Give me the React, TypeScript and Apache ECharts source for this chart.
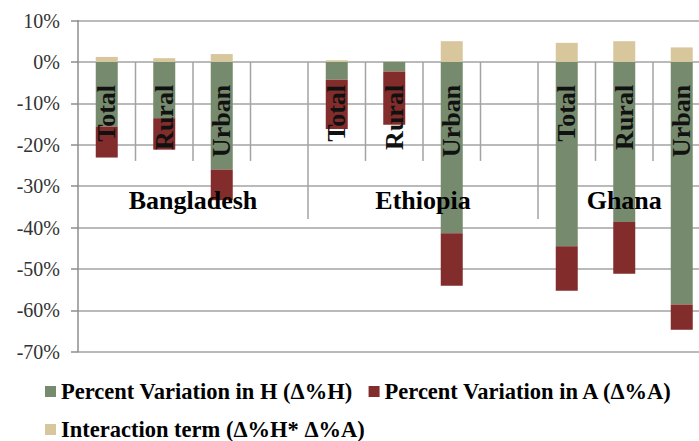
import React, { useEffect, useRef } from "react";
import * as echarts from "echarts";

const CATEGORIES = ["Total", "Rural", "Urban", "", "Total", "Rural", "Urban", "", "Total", "Rural", "Urban"];
const H_VALUES = [-15.6, -13.6, -26.0, null, -4.3, -2.3, -41.4, null, -44.5, -38.7, -58.6];
const A_VALUES = [-7.5, -7.6, -7.4, null, -11.9, -12.9, -12.7, null, -10.8, -12.5, -6.1];
const I_VALUES = [1.2, 0.9, 1.9, null, 0.4, 0.1, 5.0, null, 4.6, 5.0, 3.5];
const GROUPS = ["Bangladesh", "Ethiopia", "Ghana"];
const GROUP_SPANS = [[0, 4], [4, 8], [8, 11]];
const SERIES_NAMES = [
  "Percent Variation in H (Δ%H)",
  "Percent Variation in A (Δ%A)",
  "Interaction term (Δ%H* Δ%A)",
];
const Y_MIN = -70;
const Y_MAX = 10;
const Y_STEP = 10;
const GROUP_LABEL_Y = -33.4;

const FONT = "'Liberation Serif', 'DejaVu Serif', serif";
const GRID_COLOR = "#a3a3a3";
const AXIS_COLOR = "#8e8e8e";

export default function App() {
  const ref = useRef<HTMLDivElement>(null);
  useEffect(() => {
    if (!ref.current) return;
    const chart = echarts.init(ref.current, null, { renderer: "svg" });
    const colors = ["#768b6d", "#822c2c", "#d8c79d"];
    const legendText = { fontFamily: FONT, fontSize: 22.5, fontWeight: "bold", color: "#000" };
    const groupStart = (i: number) => GROUP_SPANS.findIndex((s) => s[0] === i);

    const renderAxisDecor = (params: any, api: any) => {
      const idx = api.value(0);
      const zero = api.coord([idx, 0]);
      const bw = api.size([1, 0])[0];
      const cx = zero[0];
      const y0 = zero[1];
      const children: any[] = [];
      const g = groupStart(idx);
      const tickLen = g > 0 ? 157 : 99;
      if (idx > 0) {
        children.push({
          type: "line",
          shape: { x1: cx - bw / 2, y1: y0, x2: cx - bw / 2, y2: y0 + tickLen },
          style: { stroke: GRID_COLOR, lineWidth: 1.5 },
        });
      }
      if (CATEGORIES[idx]) {
        children.push({
          type: "text",
          x: cx,
          y: y0 + 23,
          rotation: Math.PI / 2,
          style: {
            text: CATEGORIES[idx],
            fontFamily: FONT,
            fontSize: 26,
            fontWeight: "bold",
            fill: "#111",
            align: "right",
            verticalAlign: "middle",
          },
        });
      }
      if (g >= 0) {
        const [s, e] = GROUP_SPANS[g];
        const left = api.coord([s, 0])[0] - bw / 2;
        const right = api.coord([e - 1, 0])[0] + bw / 2;
        const gy = api.coord([idx, GROUP_LABEL_Y])[1];
        children.push({
          type: "text",
          x: (left + right) / 2,
          y: gy,
          style: {
            text: GROUPS[g],
            fontFamily: FONT,
            fontSize: 26,
            fontWeight: "bold",
            fill: "#000",
            align: "center",
            verticalAlign: "middle",
          },
        });
      }
      return { type: "group", children };
    };

    chart.setOption({
      animation: false,
      backgroundColor: "#ffffff",
      grid: { left: 78, top: 20.5, right: 9.5, bottom: 89.3, containLabel: false },
      legend: [
        {
          data: [SERIES_NAMES[0], SERIES_NAMES[1]],
          left: 45,
          top: 380,
          padding: 0,
          icon: "rect",
          itemWidth: 11,
          itemHeight: 11,
          itemGap: 16,
          textStyle: legendText,
        },
        {
          data: [SERIES_NAMES[2]],
          left: 45,
          top: 418,
          padding: 0,
          icon: "rect",
          itemWidth: 11,
          itemHeight: 11,
          textStyle: legendText,
        },
      ],
      xAxis: {
        type: "category",
        data: CATEGORIES,
        axisLine: { show: false },
        axisTick: { show: false },
        axisLabel: { show: false },
        splitLine: { show: false },
      },
      yAxis: {
        type: "value",
        min: Y_MIN,
        max: Y_MAX,
        interval: Y_STEP,
        axisLine: { show: true, onZero: false, lineStyle: { color: AXIS_COLOR, width: 1.5 } },
        axisTick: { show: true, length: 7, lineStyle: { color: AXIS_COLOR, width: 1.5 } },
        axisLabel: {
          formatter: "{value}%",
          margin: 18,
          fontFamily: FONT,
          fontSize: 20,
          color: "#333",
        },
        splitLine: { show: true, lineStyle: { color: GRID_COLOR, width: 1.5 } },
      },
      series: [
        {
          name: SERIES_NAMES[0],
          type: "bar",
          stack: "total",
          barWidth: 22,
          data: H_VALUES,
          itemStyle: { color: colors[0] },
        },
        {
          name: SERIES_NAMES[1],
          type: "bar",
          stack: "total",
          barWidth: 22,
          data: A_VALUES,
          itemStyle: { color: colors[1] },
        },
        {
          name: SERIES_NAMES[2],
          type: "bar",
          stack: "total",
          barWidth: 22,
          data: I_VALUES,
          itemStyle: { color: colors[2] },
        },
        {
          name: "axisDecor",
          type: "custom",
          silent: true,
          z: 6,
          clip: false,
          data: CATEGORIES.map((_, i) => [i, 0]),
          encode: { x: 0, y: 1 },
          renderItem: renderAxisDecor,
        },
      ],
    });
    return () => chart.dispose();
  }, []);
  return (
    <div
      ref={ref}
      style={{ position: "fixed", left: 0, top: 0, width: 720, height: 441, background: "#fff" }}
    />
  );
}
